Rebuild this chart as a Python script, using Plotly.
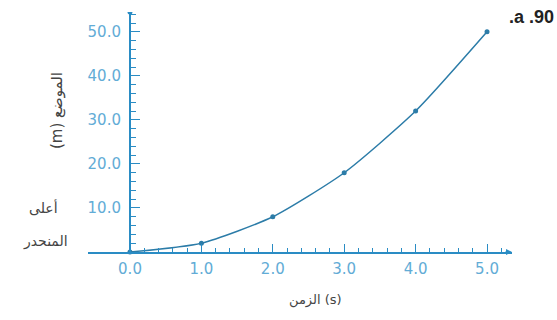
import plotly.graph_objects as go

# Data
time_s = [0.0, 1.0, 2.0, 3.0, 4.0, 5.0]
position_m = [0.0, 2.0, 8.0, 18.0, 32.0, 50.0]

x_major = [0.0, 1.0, 2.0, 3.0, 4.0, 5.0]
x_major_text = ["0.0", "1.0", "2.0", "3.0", "4.0", "5.0"]
y_major = [10.0, 20.0, 30.0, 40.0, 50.0]
y_major_text = ["10.0", "20.0", "30.0", "40.0", "50.0"]
x_minor = [round(i * 0.2, 1) for i in range(1, 27) if i % 5 != 0]
y_minor = [i * 2 for i in range(1, 28) if i % 5 != 0]

x_title = "الزمن (s)"
y_title = "(m) الموضع"
left_top = "أعلى"
left_bottom = "المنحدر"
corner_label = ".a .90"

axis_col = "#2a8cc4"
tick_col = "#62acd6"
curve_col = "#2c7ca8"
text_col = "#444444"

fig = go.Figure()
fig.add_trace(go.Scatter(
    x=time_s, y=position_m, mode="lines+markers",
    line=dict(color=curve_col, width=1.5, shape="spline", smoothing=0.6),
    marker=dict(color=curve_col, size=5),
    cliponaxis=False, showlegend=False, hoverinfo="skip",
))

ML, MR, MT, MB = 88, 45, 12, 68
W, H = 557, 320
PW, PH = W - ML - MR, H - MT - MB
xr = [-0.588, 5.35]
yr = [0, 54.5]
ypos = (0 - xr[0]) / (xr[1] - xr[0])

def px(xp):
    return (xp - ML) / PW

def py(yp):
    return ((H - MB) - yp) / PH

fig.update_layout(
    width=W, height=H,
    margin=dict(l=ML, r=MR, t=MT, b=MB),
    paper_bgcolor="white", plot_bgcolor="white",
    font=dict(family="DejaVu Sans, sans-serif", size=13, color=text_col),
    xaxis=dict(
        range=xr, showgrid=False, zeroline=False,
        showline=True, linecolor=axis_col, linewidth=2,
        tickmode="array", tickvals=x_major, ticktext=x_major_text,
        ticks="inside", ticklen=8, tickcolor=axis_col, tickwidth=1,
        tickfont=dict(color=tick_col, size=15), ticklabelstandoff=2,
        minor=dict(tickmode="array", tickvals=x_minor, ticks="inside",
                   ticklen=4, tickcolor=axis_col, tickwidth=1),
        fixedrange=True,
    ),
    yaxis=dict(
        range=yr, showgrid=False, zeroline=False,
        anchor="free", position=ypos,
        showline=True, linecolor=axis_col, linewidth=2,
        tickmode="array", tickvals=y_major, ticktext=y_major_text,
        ticks="inside", ticklen=9, tickcolor=axis_col, tickwidth=1,
        tickfont=dict(color=tick_col, size=15), ticklabelstandoff=5,
        minor=dict(tickmode="array", tickvals=y_minor, ticks="inside",
                   ticklen=5, tickcolor=axis_col, tickwidth=1),
        fixedrange=True,
    ),
)

# axis end decorations
fig.add_annotation(x=1, y=0, xref="x domain", yref="y domain", ax=-8, ay=0,
                   showarrow=True, arrowhead=2, arrowsize=0.8, arrowwidth=1.5,
                   arrowcolor=axis_col, text="")
fig.add_shape(type="circle", xref="x", yref="y", xsizemode="pixel", ysizemode="pixel",
              xanchor=0, yanchor=yr[1], x0=-2.5, x1=2.5, y0=-2.5, y1=2.5,
              fillcolor=axis_col, line=dict(width=0))

# titles and labels
fig.add_annotation(text=x_title, xref="paper", yref="paper",
                   x=px(315), y=py(310),
                   showarrow=False, font=dict(size=13, color=text_col))
fig.add_annotation(text=y_title, textangle=-90, xref="paper", yref="paper",
                   x=px(46), y=py(111),
                   showarrow=False, font=dict(size=15, color=text_col))
fig.add_annotation(text=left_top, xref="paper", yref="paper", xanchor="right",
                   x=px(60), y=py(218),
                   showarrow=False, font=dict(size=14, color=text_col))
fig.add_annotation(text=left_bottom, xref="paper", yref="paper", xanchor="right",
                   x=px(70), y=py(252),
                   showarrow=False, font=dict(size=14, color=text_col))
fig.add_annotation(text="<b>" + corner_label + "</b>", xref="paper", yref="paper",
                   xanchor="right", yanchor="top",
                   x=px(556), y=py(5),
                   showarrow=False, font=dict(family="Liberation Sans, Arial, sans-serif",
                                             size=18, color="#222222"))

fig.write_html("out.html")
